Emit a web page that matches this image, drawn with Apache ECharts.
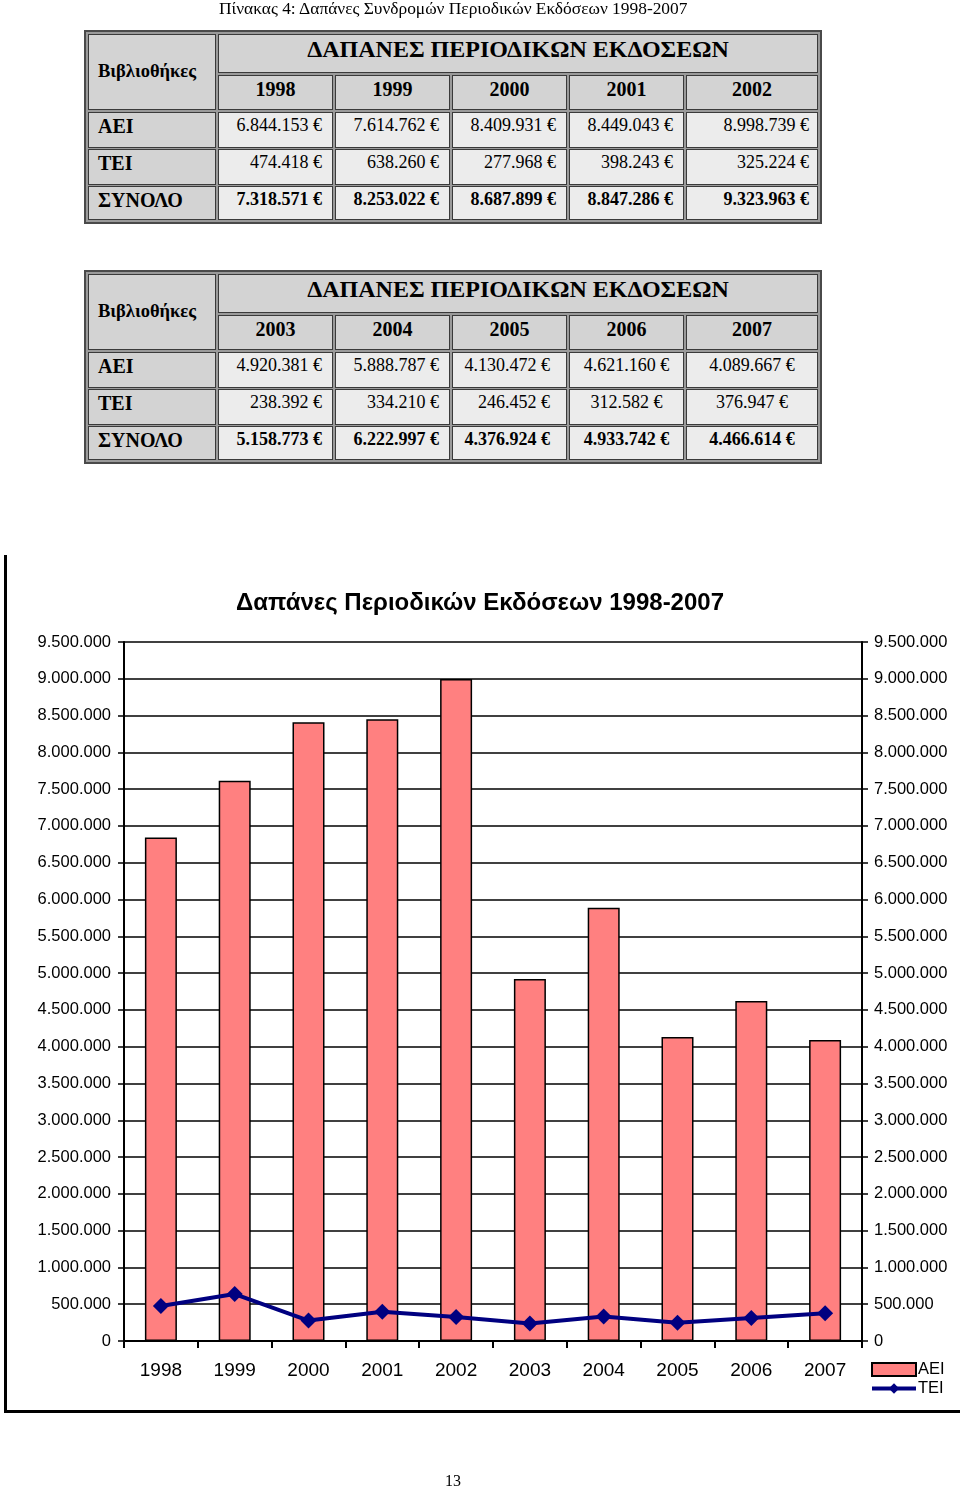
<!DOCTYPE html>
<html>
<head>
<meta charset="utf-8">
<script src="https://cdn.jsdelivr.net/npm/echarts@6/dist/echarts.min.js"></script>
<style>
  html, body { margin:0; padding:0; background:#fff; }
  body { width:960px; height:1488px; position:relative; overflow:hidden; }
  #chart { position:absolute; left:0; top:0; width:960px; height:1488px; z-index:0; }
  .serif { font-family:"Liberation Serif","Times New Roman",serif; color:#000; }
  .frame { position:absolute; box-sizing:border-box; border:2px solid #4a4a4a; background:#9a9a9a; z-index:2; }
  .cell { position:absolute; box-sizing:border-box; border:1px solid #3a3a3a; white-space:nowrap; overflow:hidden; z-index:3; }
  .hdr { background:#d3d3d3; }
  .dat { background:#ececec; }
  .abs { position:absolute; z-index:3; white-space:nowrap; }
</style>
</head>
<body>
<div id="chart"></div>
<div id="tables"></div>
<script>
// ---------------- DATA ----------------
const years = ['1998','1999','2000','2001','2002','2003','2004','2005','2006','2007'];
const aei   = [6844153, 7614762, 8409931, 8449043, 8998739, 4920381, 5888787, 4130472, 4621160, 4089667];
const tei   = [474418, 638260, 277968, 398243, 325224, 238392, 334210, 246452, 312582, 376947];
const total = [7318571, 8253022, 8687899, 8847286, 9323963, 5158773, 6222997, 4376924, 4933742, 4466614];
const rowLabels = ['ΑΕΙ', 'ΤΕΙ', 'ΣΥΝΟΛΟ'];
const seriesNames = ['ΑΕΙ', 'ΤΕΙ'];
const yTicks = { min: 0, max: 9500000, step: 500000 };
const pageCaption = 'Πίνακας 4: Δαπάνες Συνδρομών Περιοδικών Εκδόσεων 1998-2007';
const tableHeading = 'ΔΑΠΑΝΕΣ ΠΕΡΙΟΔΙΚΩΝ ΕΚΔΟΣΕΩΝ';
const libLabel = 'Βιβλιοθήκες';
const chartTitle = 'Δαπάνες Περιοδικών Εκδόσεων 1998-2007';
const pageNumber = '13';

function fmt(n) { return String(n).replace(/\B(?=(\d{3})+(?!\d))/g, '.'); }

// ---------------- TABLES (HTML) ----------------
const wrap = document.getElementById('tables');
function add(cls, l, t, w, h, html, style) {
  const d = document.createElement('div');
  d.className = cls;
  d.style.left = l + 'px'; d.style.top = t + 'px';
  if (w != null) d.style.width = w + 'px';
  if (h != null) d.style.height = h + 'px';
  if (style) d.style.cssText += style;
  d.innerHTML = html;
  wrap.appendChild(d);
  return d;
}
const cols = [[88,216],[218,333],[335,450],[452,567],[569,684],[686,818]];
function makeTable(T, start, aligns) {
  add('frame', 84, T, 738, 194, '');
  const rows = [[4,43],[45,80],[82,118],[119,155],[156,190]];
  add('cell hdr serif', cols[0][0], T+rows[0][0], cols[0][1]-cols[0][0], rows[1][1]-rows[0][0],
      '<div style="position:absolute;left:9px;top:26px;font-size:18.5px;font-weight:bold;">'+libLabel+'</div>');
  add('cell hdr serif', cols[1][0], T+rows[0][0], cols[5][1]-cols[1][0], rows[0][1]-rows[0][0],
      '<div style="text-align:center;font-size:24px;font-weight:bold;line-height:28px;padding-top:0px;">'+tableHeading+'</div>');
  for (let c = 0; c < 5; c++) {
    const x0 = cols[c+1][0], x1 = cols[c+1][1];
    add('cell hdr serif', x0, T+rows[1][0], x1-x0, rows[1][1]-rows[1][0],
        '<div style="text-align:center;font-size:20px;font-weight:bold;line-height:24px;padding-top:1px;">'+years[start+c]+'</div>');
  }
  const vals = [aei, tei, total];
  for (let r = 0; r < 3; r++) {
    const y0 = T+rows[r+2][0], y1 = T+rows[r+2][1];
    const bold = r === 2 ? 'font-weight:bold;' : '';
    add('cell hdr serif', cols[0][0], y0, cols[0][1]-cols[0][0], y1-y0,
        '<div style="padding-left:9px;font-size:20px;font-weight:bold;line-height:24px;padding-top:1px;">'+rowLabels[r]+'</div>');
    for (let c = 0; c < 5; c++) {
      const x0 = cols[c+1][0], x1 = cols[c+1][1];
      const a = aligns[c];
      const al = a[0] === 'center' ? 'text-align:center;' : 'text-align:right;padding-right:'+a[1]+'px;';
      add('cell dat serif', x0, y0, x1-x0, y1-y0,
          '<div style="'+al+bold+'font-size:18px;line-height:22px;padding-top:1px;">'+fmt(vals[r][start+c])+' €</div>');
    }
  }
}
add('abs serif', 219, -3, null, null, pageCaption, 'font-size:17.4px;line-height:22px;');
makeTable(30, 0, [['right',10],['right',10],['right',10],['right',10],['right',8]]);
makeTable(270, 5, [['right',10],['right',10],['right',16],['center'],['center']]);
add('abs serif', 445, 1471, null, null, pageNumber, 'font-size:16px;line-height:20px;');

// ---------------- CHART ----------------
const chart = echarts.init(document.getElementById('chart'), null, { renderer: 'canvas', width: 960, height: 1488 });
const sans = '"Liberation Sans", Arial, sans-serif';
const yAxisBase = {
  type: 'value', min: yTicks.min, max: yTicks.max, interval: yTicks.step,
  axisLine: { show: true, lineStyle: { color: '#000', width: 2 } },
  axisTick: { show: true, length: 6, lineStyle: { color: '#000', width: 1.5 } },
  axisLabel: { color: '#000', fontSize: 16.5, fontFamily: sans, formatter: v => fmt(v) }
};
chart.setOption({
  animation: false,
  backgroundColor: 'transparent',
  title: {
    text: chartTitle, left: 'center', top: 586,
    textStyle: { fontSize: 24, fontWeight: 'bold', color: '#000', fontFamily: sans }
  },
  grid: { left: 124, right: 98, top: 642, bottom: 147, containLabel: false },
  legend: {
    orient: 'vertical', left: 870, top: 1361, padding: 0,
    itemWidth: 44, itemHeight: 13, itemGap: 2,
    textStyle: { fontSize: 16.5, color: '#000', fontFamily: sans, padding: [0,0,0,-3] },
    lineStyle: { width: 4 },
    data: [
      { name: seriesNames[0], icon: 'rect' },
      { name: seriesNames[1] }
    ]
  },
  xAxis: {
    type: 'category', data: years, boundaryGap: true,
    axisLine: { lineStyle: { color: '#000', width: 2 } },
    axisTick: { show: true, length: 7, alignWithLabel: false, lineStyle: { color: '#000', width: 2 } },
    axisLabel: { color: '#000', fontSize: 19, fontFamily: sans, margin: 20 },
    splitLine: { show: false }
  },
  yAxis: [
    Object.assign({}, yAxisBase, {
      position: 'left',
      axisLabel: Object.assign({}, yAxisBase.axisLabel, { margin: 13 }),
      splitLine: { show: true, lineStyle: { color: '#000', width: 1.5 } }
    }),
    Object.assign({}, yAxisBase, {
      position: 'right',
      axisLabel: Object.assign({}, yAxisBase.axisLabel, { margin: 12 }),
      splitLine: { show: false }
    })
  ],
  series: [
    {
      name: seriesNames[0], type: 'bar', data: aei, barWidth: 32, yAxisIndex: 0,
      itemStyle: { color: '#FF8080', borderColor: '#000', borderWidth: 1.5 },
      z: 2
    },
    {
      name: seriesNames[1], type: 'line', data: tei, yAxisIndex: 1,
      symbol: 'diamond', symbolSize: 16,
      lineStyle: { color: '#000080', width: 4 },
      itemStyle: { color: '#000080' },
      z: 5
    }
  ],
  graphic: [
    { type: 'line', shape: { x1: 5.5, y1: 555, x2: 5.5, y2: 1413 }, style: { stroke: '#000', lineWidth: 3 } },
    { type: 'line', shape: { x1: 4, y1: 1411.5, x2: 960, y2: 1411.5 }, style: { stroke: '#000', lineWidth: 3 } }
  ]
});
</script>
</body>
</html>
